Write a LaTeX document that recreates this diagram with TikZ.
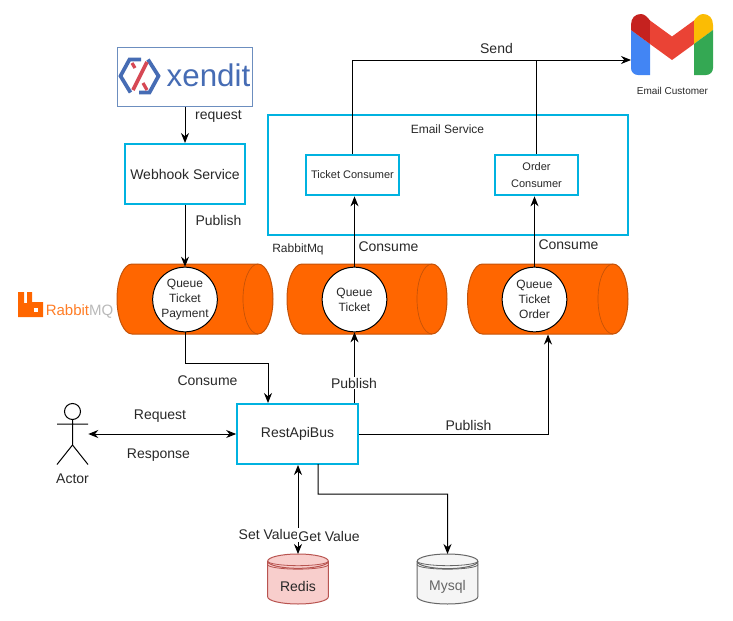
\documentclass[tikz,border=0pt]{standalone}
\usepackage{fontspec}
\setmainfont{Liberation Sans}
\usetikzlibrary{arrows.meta,shapes.geometric}

\tikzset{
    >={Stealth[length=7.5pt,width=6pt]},
    conn/.style={draw=black,line width=0.75pt},
    servicebox/.style={draw=boxblue,line width=1.5pt,fill=white,inner sep=0pt,align=center},
    queuebody/.style={draw=queueedge,fill=queueorange,line width=0.75pt},
    queuecap/.style={x radius=11.25pt,y radius=26.25pt},
    queuecircle/.style={circle,draw=black,fill=white,line width=0.75pt,minimum size=48.5pt,inner sep=0pt,
        align=center,font=\fontsize{9}{11.1}\selectfont,text=textgray},
    datastore/.style={cylinder,shape border rotate=90,aspect=0.4,line width=0.75pt,
        minimum height=37.5pt,minimum width=45.5pt,inner sep=0pt,outer sep=0pt,anchor=shape center,
        font=\fontsize{10.5}{12}\selectfont},
    lbl/.style={font=\fontsize{10.5}{12}\selectfont,text=textgray,inner sep=0pt},
    smalllbl/.style={font=\fontsize{9}{11}\selectfont,text=textgray,inner sep=0pt},
}

\begin{document}
\begin{tikzpicture}[x=0.75pt,y=-0.75pt]

    % Colors
    \definecolor{boxblue}{RGB}{0,178,224}
    \definecolor{xenditblue}{RGB}{70,108,180}
    \definecolor{xenditred}{RGB}{214,72,84}
    \definecolor{xenditedge}{RGB}{108,142,191}
    \definecolor{queueorange}{RGB}{255,102,0}
    \definecolor{queueedge}{RGB}{196,82,8}
    \definecolor{textgray}{RGB}{40,40,40}
    \definecolor{rediscolor}{RGB}{248,206,204}
    \definecolor{redisedge}{RGB}{184,84,80}
    \definecolor{mysqlcolor}{RGB}{245,245,245}
    \definecolor{mysqledge}{RGB}{102,102,102}
    \definecolor{gmailblue}{RGB}{66,133,244}
    \definecolor{gmaildark}{RGB}{197,34,31}
    \definecolor{gmailred}{RGB}{234,67,53}
    \definecolor{gmailyellow}{RGB}{251,188,4}
    \definecolor{gmailgreen}{RGB}{52,168,83}

    \useasboundingbox (0,0) rectangle (733,621);

    % Email Service frame
    \node[servicebox,minimum width=270pt,minimum height=90pt] (emailservice) at (447.5,174.5) {};
    \node[smalllbl] (emailservicelbl) at (447.5,129) {Email Service};
    \node[servicebox,minimum width=69.5pt,minimum height=30.5pt,font=\fontsize{8.25}{10}\selectfont,text=textgray] (ticketconsumer) at (352.5,175) {Ticket Consumer};
    \node[servicebox,minimum width=62pt,minimum height=30.5pt,font=\fontsize{8.25}{12.9}\selectfont,text=textgray] (orderconsumer) at (536.5,175) {Order\\Consumer};

    % Xendit
    \node[draw=xenditedge,fill=white,line width=0.75pt,minimum width=101pt,minimum height=44pt,inner sep=0pt] (xendit) at (185,77) {};
    \draw[xenditblue,line width=2.8pt,line join=miter] (141,59.5) -- (129.5,59.5) -- (120.5,76) -- (130.5,92.5);
    \draw[xenditblue,line width=2.8pt,line join=miter] (148,59.5) -- (158.5,76) -- (149.5,92.5) -- (139,92.5);
    \draw[xenditred,line width=2.8pt] (147,62) -- (133,90);
    \draw[xenditred,line width=2.4pt] (132,63) -- (135,68);
    \draw[xenditred,line width=2.4pt] (143,83) -- (147,90);
    \node[inner sep=0pt,text=xenditblue,font=\fontsize{23.5}{24}\selectfont] (xenditname) at (208.5,75) {xendit};

    \node[servicebox,minimum width=90pt,minimum height=45pt,font=\fontsize{10.5}{12}\selectfont,text=textgray] (webhook) at (185,174) {Webhook Service};

    % RabbitMQ logo
    \fill[queueorange] (18,292) -- (24,292) -- (24,303) -- (27,303) -- (27,292) -- (32,292) -- (32,302) -- (43,302) -- (43,317) -- (18,317) -- cycle;
    \fill[white] (33.5,308) rectangle (38,312);
    \node[inner sep=0pt,font=\fontsize{11.25}{12}\selectfont,anchor=base west] (rabbitname) at (45.5,315.5) {\textcolor{queueorange!85}{Rabbit}\textcolor{gray!55}{MQ}};

    % Queues
    \foreach \bodyx/\bodyw in {117/156,287/160,467.5/160.5} {
        \draw[queuebody] (\bodyx+15,264) -- (\bodyx+\bodyw-15,264) arc[start angle=90,end angle=-90,queuecap] -- (\bodyx+15,334) arc[start angle=270,end angle=90,queuecap] -- cycle;
        \draw[queueedge,line width=0.5pt] (\bodyx+\bodyw-15,264) arc[start angle=90,end angle=270,queuecap];
    }
    \node[queuecircle] (queuepayment) at (185,299.5) {Queue\\Ticket\\Payment};
    \node[queuecircle] (queueticket) at (354.5,299.5) {Queue\\Ticket};
    \node[queuecircle] (queueorder) at (534.5,299.5) {Queue\\Ticket\\Order};
    \node[smalllbl] (rabbitlbl) at (298,249.5) {RabbitMq};

    % RestApiBus and the actor
    \node[servicebox,minimum width=90.5pt,minimum height=45pt,font=\fontsize{10.5}{12}\selectfont,text=textgray] (restapibus) at (297.5,434) {RestApiBus};
    \node[minimum width=24pt,minimum height=40.5pt,inner sep=0pt] (actor) at (72,438) {};
    \draw[black,line width=0.75pt] (72.5,411.5) circle (8);
    \draw[black,line width=0.75pt] (72.5,419.5) -- (72.5,445) -- (57,464.5) (72.5,445) -- (88,464.5) (57,424) -- (88,424);
    \node[lbl] (actorlbl) at (72.5,479) {Actor};

    % Stores
    \node[datastore,draw=redisedge,fill=rediscolor] (redis) at (298,579) {\phantom{Redis}};
    \node[datastore,draw=mysqledge,fill=mysqlcolor] (mysql) at (447.5,579) {\phantom{Mysql}};
    \foreach \ringx/\ringcolor in {267.5/redisedge,417/mysqledge} {
        \draw[\ringcolor,line width=0.6pt] (\ringx,561) arc[start angle=180,end angle=360,x radius=22.9pt,y radius=3.5pt];
        \draw[\ringcolor,line width=0.6pt] (\ringx,564.5) arc[start angle=180,end angle=360,x radius=22.9pt,y radius=3.5pt];
    }
    \node[lbl] (redislbl) at (298,586.5) {Redis};
    \node[lbl,text=black!60] (mysqllbl) at (447.5,586.5) {Mysql};

    % Gmail logo
    \coordinate (gmail) at (631,60);
    \fill[gmailblue] (631,30) -- (631,68) .. controls (631,72) and (634,75) .. (638,75) -- (650,75) -- (650,44) -- cycle;
    \fill[gmaildark] (631,30) -- (631,25) .. controls (631,18) and (635,14) .. (641,14) .. controls (645,14) and (648,18) .. (650,20.5) -- (650,44) -- cycle;
    \fill[gmailred] (650,20.5) -- (672,36.5) -- (694,20.5) -- (694,44) -- (672,60) -- (650,44) -- cycle;
    \fill[gmailyellow] (694,20.5) .. controls (696,18) and (699,14) .. (703,14) .. controls (709,14) and (713,18) .. (713,25) -- (713,30) -- (694,44) -- cycle;
    \fill[gmailgreen] (694,44) -- (713,30) -- (713,68) .. controls (713,72) and (710,75) .. (706,75) -- (694,75) -- cycle;
    \node[inner sep=0pt,font=\fontsize{7.5}{9}\selectfont,text=textgray] (gmaillbl) at (672.5,90.5) {Email Customer};

    % Free ends of the bent connectors
    \coordinate (busin) at (268,363);
    \coordinate (busout) at (318,464);
    \coordinate (busmysql) at (447.5,494);
    \coordinate (queueorderin) at (548,334.5);

    % Connectors
    \draw[conn,->] (xendit.south) -- (webhook.north);
    \draw[conn,->] (webhook.south) -- (queuepayment.north);
    \draw[conn,->] (queuepayment.south) |- (busin) -- (restapibus.north -| busin);
    \draw[conn,->] (restapibus.north -| queueticket.south) -- (queueticket.south);
    \draw[conn,->] (restapibus.east) -| (queueorderin);
    \draw[conn,->] (queueticket.north) -- (ticketconsumer.south -| queueticket.north);
    \draw[conn,->] (queueorder.north) -- (orderconsumer.south -| queueorder.north);
    \draw[conn,->] (ticketconsumer.north) |- (gmail);
    \draw[conn] (orderconsumer.north) -- (orderconsumer.north |- gmail);
    \draw[conn,<->] (actor.east |- restapibus.west) -- (restapibus.west);
    \draw[conn,<->] (redis.north |- restapibus.south) -- (redis.north);
    \draw[conn,->] (busout) |- (busmysql) -- (mysql.north);

    % Connector labels
    \node[lbl] (requestlbl) at (218.5,116) {request};
    \node[lbl] (publishlbla) at (218.5,220) {Publish};
    \node[lbl] (sendlbl) at (496.5,48) {Send};
    \node[lbl] (consumelbla) at (388.5,246.5) {Consume};
    \node[lbl] (consumelblb) at (568.5,244.5) {Consume};
    \node[lbl] (consumelblc) at (207.5,380.5) {Consume};
    \node[lbl,fill=white,inner sep=1pt] (publishlblb) at (354,383) {Publish};
    \node[lbl] (publishlblc) at (468.5,425) {Publish};
    \node[lbl] (requestlblb) at (160,416) {Request};
    \node[lbl] (responselbl) at (158.5,455.5) {Response};
    \node[lbl,fill=white,inner sep=1pt] (setlbl) at (268.5,534) {Set Value};
    \node[lbl,fill=white,inner sep=1pt] (getlbl) at (329,536) {Get Value};

\end{tikzpicture}
\end{document}
